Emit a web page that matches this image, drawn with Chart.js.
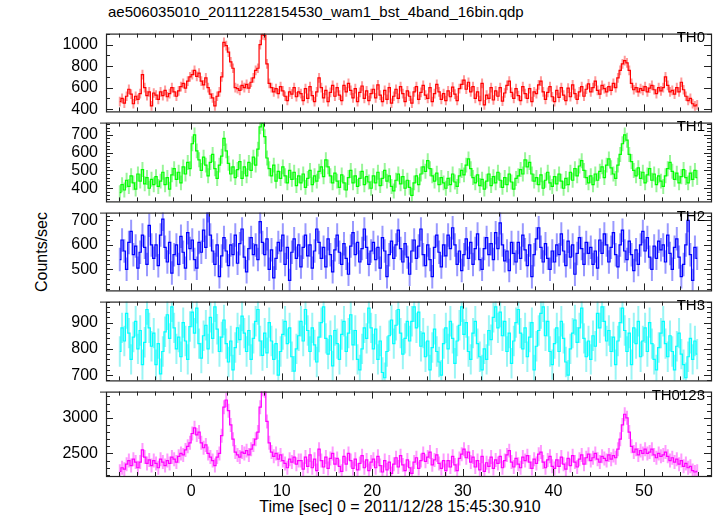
<!DOCTYPE html>
<html lang="en">
<head>
    <meta charset="UTF-8">
    <title>ae506035010_20111228154530_wam1_bst_4band_16bin.qdp</title>
    <script src="https://cdn.jsdelivr.net/npm/chart.js@4.4.0/dist/chart.umd.min.js"></script>
    <style>
        html, body { margin: 0; padding: 0; background: #fff; }
        #wrap { position: relative; width: 717px; height: 516px; overflow: hidden; background: #fff;
                font-family: 'Liberation Sans', Arial, Helvetica, sans-serif; color: #000; }
        #wrap canvas { position: absolute; left: 0; }
        .txt { position: absolute; font-size: 15px; line-height: 1; white-space: nowrap; }
        .panel-name { right: 12px; }
        #ylabel { left: 42px; top: 252px; font-size: 16px; transform: translate(-50%, -50%) rotate(-90deg); }
        #xlabel { left: 400px; top: 507px; font-size: 16px; transform: translate(-50%, -50%); }
    </style>
</head>
<body>
<div id="wrap">
    <div class="txt" id="title" style="left:108px; top:4px;">ae506035010_20111228154530_wam1_bst_4band_16bin.qdp</div>
    <div class="txt" id="ylabel">Counts/sec</div>
    <div class="txt" id="xlabel">Time [sec] 0 = 2011/12/28 15:45:30.910</div>
</div>

<script>
// 0.25 s bins (16 x 1/64 s), first bin centred at -7.875 s
const binWidth = 0.25;
const firstBin = -7.875;

const panelNames = ['TH0', 'TH1', 'TH2', 'TH3', 'TH0123'];

const th0 = [
    470, 500, 455, 520, 585, 540, 450, 520, 490, 545, 720, 600, 525, 560, 430, 550,
    530, 490, 560, 525, 575, 515, 545, 600, 560, 520, 570, 610, 640, 595, 660, 700,
    720, 760, 705, 735, 660, 625, 690, 600, 540, 505, 430, 520, 560, 700, 1020, 990,
    930, 840, 780, 600, 590, 575, 620, 600, 630, 595, 650, 690, 760, 780, 1000, 1090,
    1085, 820, 640, 600, 560, 590, 545, 610, 570, 520, 480, 560, 540, 600, 515, 560,
    545, 480, 590, 500, 610, 525, 470, 560, 690, 600, 505, 575, 470, 555, 620, 520,
    600, 530, 480, 620, 560, 640, 575, 505, 590, 470, 555, 615, 500, 570, 480, 545,
    585, 505, 625, 530, 470, 575, 490, 600, 455, 520, 585, 500, 610, 545, 470, 570,
    520, 455, 560, 610, 490, 555, 620, 530, 500, 600, 470, 545, 630, 560, 490, 545,
    480, 570, 515, 605, 540, 480, 590, 630, 670, 585, 650, 560, 610, 500, 560, 480,
    640, 440, 530, 500, 600, 485, 570, 520, 600, 475, 550, 620, 660, 555, 500, 590,
    525, 480, 610, 545, 500, 590, 470, 560, 545, 625, 660, 560, 490, 555, 610, 515,
    470, 575, 510, 600, 530, 480, 595, 515, 625, 545, 490, 560, 610, 520, 585, 635,
    560, 600, 660, 575, 540, 620, 590, 560, 610, 575, 640, 600, 690, 760, 820, 850,
    830, 760, 640, 580, 600, 560, 590, 575, 610, 560, 595, 620, 580, 545, 600, 570,
    600, 700, 620, 560, 575, 540, 600, 560, 650, 580, 520, 480, 500, 450, 430, 440
];

const th1 = [
    375, 420, 390, 445, 410, 470, 430, 395, 480, 440, 505, 425, 460, 400, 450, 420,
    465, 410, 440, 490, 420, 460, 395, 475, 510, 450, 490, 430, 520, 480, 545, 510,
    650, 700, 610, 560, 500, 575, 530, 470, 545, 590, 510, 455, 530, 580, 680, 610,
    540, 480, 520, 460, 505, 550, 455, 520, 470, 545, 500, 575, 530, 620, 745, 765,
    690, 570, 510, 470, 530, 440, 495, 455, 520, 470, 430, 500, 450, 490, 415, 470,
    430, 480, 405, 455, 500, 420, 470, 440, 495, 520, 465, 560, 520, 470, 430, 485,
    440, 405, 475, 430, 390, 460, 500, 430, 470, 410, 455, 495, 420, 465, 435, 400,
    470, 430, 490, 415, 455, 500, 440, 470, 410, 385, 445, 480, 425, 465, 400, 445,
    405, 360, 430, 470, 420, 480, 520, 495, 555, 510, 470, 440, 485, 420, 460, 430,
    400, 455, 420, 480, 435, 410, 470, 500, 475, 530, 565, 510, 460, 430, 475, 415,
    450, 395, 440, 480, 415, 465, 430, 490, 445, 405, 460, 420, 480, 435, 395, 455,
    470, 505, 480, 560, 520, 545, 480, 440, 460, 420, 475, 400, 445, 490, 430, 410,
    465, 425, 480, 440, 400, 455, 420, 490, 445, 510, 470, 525, 555, 500, 460, 430,
    470, 420, 480, 445, 495, 520, 460, 530, 565, 515, 480, 455, 530, 590, 650, 700,
    670, 590, 550, 500, 470, 515, 455, 490, 430, 475, 510, 445, 480, 420, 470, 440,
    410, 470, 510, 545, 495, 450, 485, 430, 465, 505, 460, 430, 485, 450, 500, 460
];

const th2 = [
    540, 620, 575, 500, 610, 655, 560, 595, 505, 570, 640, 590, 520, 680, 600, 545,
    600, 515, 640, 705, 590, 530, 610, 485, 560, 600, 520, 635, 570, 505, 650, 585,
    620, 540, 505, 610, 570, 660, 590, 740, 640, 575, 520, 600, 470, 555, 630, 575,
    515, 600, 560, 640, 525, 605, 665, 550, 490, 585, 630, 560, 600, 540, 695, 610,
    560, 625, 500, 580, 465, 545, 610, 575, 640, 520, 590, 455, 570, 625, 545, 600,
    510, 590, 640, 555, 600, 505, 575, 665, 610, 545, 590, 510, 625, 560, 490, 580,
    640, 570, 520, 605, 545, 480, 595, 650, 560, 610, 530, 585, 665, 590, 520, 575,
    610, 540, 590, 505, 630, 575, 470, 560, 615, 545, 600, 660, 585, 530, 605, 550,
    480, 575, 620, 545, 595, 665, 560, 515, 600, 540, 470, 590, 640, 570, 510, 600,
    555, 640, 585, 670, 600, 520, 575, 495, 560, 625, 545, 610, 520, 585, 645, 540,
    500, 585, 630, 560, 605, 540, 650, 585, 690, 600, 535, 575, 495, 610, 565, 530,
    610, 545, 640, 580, 515, 600, 470, 560, 625, 670, 590, 530, 605, 545, 500, 575,
    530, 600, 560, 645, 575, 515, 615, 550, 600, 480, 565, 630, 585, 520, 610, 565,
    590, 520, 575, 505, 620, 565, 645, 600, 530, 590, 650, 560, 510, 600, 660, 575,
    540, 615, 560, 495, 580, 520, 600, 655, 575, 630, 550, 500, 595, 545, 615, 580,
    600, 530, 640, 565, 500, 590, 625, 550, 470, 520, 600, 700, 560, 455, 590, 545
];

const th3 = [
    790, 880, 830, 935, 860, 760, 845, 905, 800, 870, 740, 825, 950, 880, 810, 860,
    740, 820, 705, 790, 865, 930, 840, 960, 880, 800, 845, 770, 900, 830, 760, 885,
    940, 860, 955, 820, 765, 850, 890, 800, 920, 840, 960, 875, 790, 845, 910, 820,
    750, 830, 720, 805, 880, 835, 925, 860, 790, 870, 760, 840, 905, 950, 830, 775,
    860, 785, 900, 830, 760, 820, 700, 790, 855, 905, 820, 880, 770, 715, 800, 850,
    905, 830, 950, 870, 790, 880, 815, 750, 845, 900, 960, 840, 780, 850, 735, 870,
    820, 760, 855, 905, 790, 860, 930, 815, 870, 760, 720, 800, 880, 840, 955, 880,
    800, 875, 760, 830, 710, 690, 790, 850, 910, 820, 890, 950, 860, 780, 840, 905,
    830, 905, 960, 880, 940, 810, 860, 770, 830, 720, 805, 875, 790, 750, 700, 820,
    880, 800, 905, 840, 745, 830, 890, 960, 855, 900, 790, 760, 860, 905, 820, 770,
    720, 800, 760, 870, 835, 920, 960, 880, 940, 850, 905, 790, 860, 745, 830, 900,
    950, 860, 800, 880, 770, 845, 900, 720, 810, 870, 935, 960, 850, 905, 790, 740,
    820, 880, 790, 905, 840, 750, 700, 800, 860, 910, 825, 880, 955, 840, 770, 830,
    760, 850, 810, 935, 880, 960, 905, 830, 870, 790, 845, 740, 830, 900, 955, 870,
    790, 860, 740, 880, 820, 905, 770, 830, 880, 790, 900, 820, 760, 720, 805, 860,
    905, 820, 770, 850, 790, 720, 810, 860, 780, 740, 690, 770, 840, 760, 830, 780
];

const th0123 = [
    2250, 2300, 2280, 2350, 2400, 2330, 2420, 2380, 2300, 2380, 2550, 2450, 2360, 2410, 2330, 2400,
    2360, 2300, 2420, 2380, 2330, 2400, 2360, 2450, 2420, 2380, 2460, 2500, 2480, 2550, 2600, 2650,
    2780, 2860, 2760, 2800, 2650, 2580, 2620, 2500, 2450, 2400, 2330, 2450, 2500, 2750, 3150, 3250,
    3100, 2900, 2700, 2520, 2480, 2450, 2520, 2500, 2540, 2480, 2560, 2620, 2700, 2800, 3150, 3400,
    3380, 2950, 2650, 2520, 2460, 2500, 2420, 2480, 2400, 2360, 2300, 2420, 2380, 2450, 2350, 2400,
    2400, 2280, 2450, 2320, 2480, 2300, 2420, 2260, 2560, 2400, 2310, 2450, 2290, 2430, 2500, 2350,
    2430, 2320, 2250, 2460, 2350, 2500, 2400, 2290, 2420, 2270, 2360, 2470, 2300, 2410, 2260, 2380,
    2420, 2300, 2460, 2330, 2240, 2400, 2270, 2380, 2220, 2350, 2440, 2310, 2470, 2340, 2260, 2410,
    2300, 2220, 2380, 2440, 2290, 2400, 2500, 2390, 2450, 2520, 2340, 2410, 2480, 2360, 2290, 2400,
    2260, 2400, 2310, 2460, 2340, 2260, 2430, 2490, 2560, 2440, 2520, 2380, 2450, 2310, 2400, 2270,
    2460, 2250, 2370, 2320, 2450, 2290, 2410, 2360, 2460, 2300, 2400, 2480, 2540, 2380, 2310, 2430,
    2350, 2300, 2450, 2400, 2470, 2380, 2290, 2420, 2360, 2490, 2520, 2380, 2300, 2410, 2460, 2320,
    2290, 2410, 2320, 2450, 2350, 2280, 2430, 2330, 2470, 2380, 2310, 2420, 2480, 2350, 2440, 2490,
    2400, 2440, 2500, 2420, 2380, 2460, 2430, 2400, 2480, 2420, 2470, 2440, 2560, 2700, 2900, 3050,
    3000, 2800, 2600, 2520, 2560, 2480, 2540, 2500, 2560, 2500, 2520, 2560, 2480, 2440, 2500, 2460,
    2480, 2520, 2460, 2400, 2440, 2380, 2420, 2350, 2400, 2320, 2360, 2300, 2320, 2260, 2240, 2250
];

const series = [th0, th1, th2, th3, th0123];
// 1-sigma error of one 0.25 s bin, per panel
const errHalf = [45, 42, 48, 58, 98];

// axis ranges and tick steps
const xMin = -9.4, xMax = 57.4, xMajor = 10, xMinor = 2;
const yMins = [379, 326, 414, 680, 2184];
const yMaxs = [1102, 769, 732, 980, 3368];
const yMajors = [200, 100, 100, 100, 500];
const yMinorSteps = [100, 20, 20, 20, 100];

const lineColors = ['#ff0000', '#00ff00', '#0000ff', '#00ffff', '#ff00ff'];
const errColors = ['rgba(255,0,0,0.4)', 'rgba(0,230,0,0.4)', 'rgba(0,0,255,0.4)', 'rgba(0,230,230,0.4)', 'rgba(255,0,255,0.4)'];

// panel frame positions on the page
const panelTops = [28, 117, 207, 296, 386];
const panelBottoms = [117, 207, 296, 386, 476];
const PAD = 12;
const XAXIS_H = 40;
const FONT = { family: "'Liberation Sans', Arial, Helvetica, sans-serif", size: 16 };

const times = th0.map((_, i) => firstBin + i * binWidth);

function tickValues(min, max, step) {
    const out = [];
    for (let v = Math.ceil(min / step) * step; v <= max + 1e-9; v += step) out.push(v);
    return out;
}

function makeQdpPlugin(k) {
    return {
        id: 'qdp' + k,
        beforeDatasetsDraw(chart) {
            const { ctx, chartArea: a, scales: { x, y } } = chart;
            ctx.save();
            ctx.beginPath();
            ctx.rect(a.left, a.top, a.right - a.left, a.bottom - a.top);
            ctx.clip();
            ctx.strokeStyle = errColors[k];
            ctx.lineWidth = 2;
            ctx.beginPath();
            series[k].forEach((v, i) => {
                const px = x.getPixelForValue(times[i]);
                ctx.moveTo(px, y.getPixelForValue(v - errHalf[k]));
                ctx.lineTo(px, y.getPixelForValue(v + errHalf[k]));
            });
            ctx.stroke();
            ctx.restore();
        },
        afterDraw(chart) {
            const { ctx, chartArea: a, scales: { x, y } } = chart;
            ctx.save();
            ctx.strokeStyle = '#222';
            ctx.lineWidth = 1;
            ctx.beginPath();
            tickValues(xMin, xMax, xMinor).forEach(v => {
                const px = Math.round(x.getPixelForValue(v)) + 0.5;
                const len = Math.abs(v % xMajor) < 1e-9 ? 7 : 4;
                ctx.moveTo(px, a.bottom); ctx.lineTo(px, a.bottom - len);
                ctx.moveTo(px, a.top); ctx.lineTo(px, a.top + len);
            });
            tickValues(yMins[k], yMaxs[k], yMinorSteps[k]).forEach(v => {
                const py = Math.round(y.getPixelForValue(v)) + 0.5;
                const len = Math.abs(v % yMajors[k]) < 1e-9 ? 7 : 4;
                ctx.moveTo(a.left, py); ctx.lineTo(a.left + len, py);
                ctx.moveTo(a.right, py); ctx.lineTo(a.right - len, py);
            });
            if (k > 0) {
                ctx.moveTo(a.left - 6, a.top + 0.5); ctx.lineTo(a.left, a.top + 0.5);
            }
            ctx.stroke();
            ctx.lineWidth = 1.2;
            ctx.strokeRect(a.left + 0.5, a.top + 0.5, a.right - a.left, a.bottom - a.top);
            ctx.restore();
        }
    };
}

const wrap = document.getElementById('wrap');

panelNames.forEach((name, k) => {
    const isLast = k === panelNames.length - 1;
    const h = panelBottoms[k] - panelTops[k];
    const canvas = document.createElement('canvas');
    canvas.width = 717;
    canvas.height = h + PAD + (isLast ? XAXIS_H : PAD);
    canvas.style.top = (panelTops[k] - PAD) + 'px';
    canvas.style.width = '717px';
    canvas.style.height = canvas.height + 'px';
    wrap.appendChild(canvas);

    const label = document.createElement('div');
    label.className = 'txt panel-name';
    label.style.top = (panelTops[k] + 1) + 'px';
    label.textContent = name;
    wrap.appendChild(label);

    const xScale = {
        type: 'linear',
        min: xMin,
        max: xMax,
        display: isLast,
        grid: { display: false, drawTicks: false },
        border: { display: false },
        ticks: {
            padding: 6,
            color: '#000',
            font: FONT,
            maxRotation: 0,
            autoSkip: false,
            callback: v => String(Math.round(v) + 0)
        },
        afterBuildTicks(s) { s.ticks = tickValues(xMin, xMax, xMajor).map(v => ({ value: v })); }
    };
    if (isLast) xScale.afterFit = s => { s.height = XAXIS_H; };

    new Chart(canvas, {
        type: 'line',
        data: {
            datasets: [{
                data: series[k].map((v, i) => ({ x: times[i], y: v })),
                stepped: 'middle',
                borderColor: lineColors[k],
                borderWidth: 1.2,
                pointRadius: 0,
                fill: false
            }]
        },
        options: {
            responsive: false,
            animation: false,
            events: [],
            layout: { padding: { top: PAD, bottom: isLast ? 0 : PAD, left: 0, right: 6 } },
            plugins: { legend: { display: false }, tooltip: { enabled: false } },
            scales: {
                x: xScale,
                y: {
                    min: yMins[k],
                    max: yMaxs[k],
                    grid: { display: false, drawTicks: false },
                    border: { display: false },
                    ticks: {
                        autoSkip: false,
                        padding: 8,
                        color: '#000',
                        font: FONT,
                        callback: v => String(v)
                    },
                    afterBuildTicks(s) { s.ticks = tickValues(yMins[k], yMaxs[k], yMajors[k]).map(v => ({ value: v })); },
                    afterFit(s) { s.width = 106; }
                }
            }
        },
        plugins: [makeQdpPlugin(k)]
    });
});
</script>
</body>
</html>
